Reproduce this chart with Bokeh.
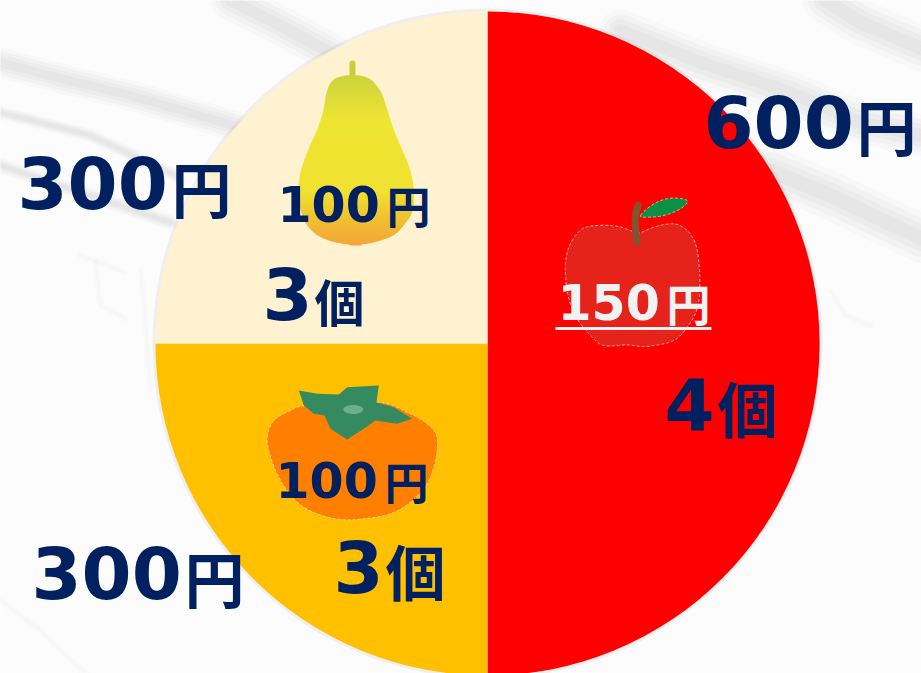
import math
from bokeh.plotting import figure
from bokeh.models import Range1d
from bokeh.core.properties import value
from bokeh.embed import file_html
from bokeh.resources import INLINE

W, H = 921, 673

# ---- chart data ----
fruits = ["りんご", "柿", "梨"]
totals = [600, 300, 300]
counts = [4, 3, 3]
unit_prices = [150, 100, 100]
slice_colors = ["#FF0000", "#FFC000", "#FFF2D0"]

NAVY = "#002060"
LIGHT = "#F2F2F2"


def sy(v):
    return H - v


def smooth(pts, closed=True, n=8):
    out = []
    m = len(pts)
    rng = range(m) if closed else range(m - 1)
    for i in rng:
        p0 = pts[(i - 1) % m] if (closed or i > 0) else pts[i]
        p1 = pts[i]
        p2 = pts[(i + 1) % m]
        p3 = pts[(i + 2) % m] if (closed or i + 2 < m) else p2
        for k in range(n):
            t = k / n
            q = []
            for a in range(2):
                q.append(0.5 * (2 * p1[a] + (p2[a] - p0[a]) * t
                                + (2 * p0[a] - 5 * p1[a] + 4 * p2[a] - p3[a]) * t * t
                                + (3 * p1[a] - p0[a] - 3 * p2[a] + p3[a]) * t ** 3))
            out.append(q)
    return out


def from_zoom(pts, ox, oy):
    return [(ox + a / 3, oy + b / 3) for a, b in pts]


p = figure(width=W, height=H, x_range=Range1d(0, W), y_range=Range1d(0, H),
           output_backend="svg", toolbar_location=None, min_border=0,
           background_fill_color="#FCFCFC", border_fill_color="#FCFCFC",
           outline_line_color=None)
p.axis.visible = False
p.grid.visible = False

# ---- faint banknote backdrop, layered to look soft ----
bands = [
    ([0, 60, 130, 233], [62, 78, 95, 125], 20),
    ([0, 40, 90, 175], [112, 122, 135, 175], 9),
    ([0, 60, 120, 170], [165, 185, 205, 222], 10),
    ([620, 700, 790, 860, 921], [30, 62, 92, 122, 135], 28),
    ([770, 830, 921], [170, 195, 238], 32),
    ([825, 860, 921], [0, 22, 48], 30),
    ([230, 280, 335], [0, 25, 55], 26),
]
for xs, ys, w in bands:
    for f, a in [(1.5, 0.03), (1.15, 0.04), (0.8, 0.04), (0.45, 0.04)]:
        p.line(xs, [sy(v) for v in ys], line_width=w * f, line_color="#707070", line_alpha=a,
               line_cap="round", line_join="round")
faint_marks = [
    ([80, 100, 125], [255, 262, 272]),
    ([95, 100, 125], [262, 305, 318]),
    ([140, 145, 150], [270, 320, 390]),
    ([0, 40, 85], [600, 630, 673]),
    ([830, 845, 870], [290, 315, 325]),
]
for xs, ys in faint_marks:
    for w, a in [(7, 0.02), (3, 0.03)]:
        p.line(xs, [sy(v) for v in ys], line_width=w, line_color="#80A090", line_alpha=a,
               line_cap="round", line_join="round")

# ---- pie ----
cx, cy, r = 487, 343, 332
grand = sum(totals)
angle = math.pi / 2
starts, ends = [], []
for t in totals:
    starts.append(angle)
    angle -= 2 * math.pi * t / grand
    ends.append(angle)
p.circle(x=[cx], y=[sy(cy)], radius=r + 3, fill_color="#808080", fill_alpha=0.10, line_color=None)
p.wedge(x=[cx] * 3, y=[sy(cy)] * 3, radius=r, start_angle=starts, end_angle=ends,
        direction="clock", fill_color=slice_colors, line_color=None)

# ---- pear ----
pear_rows = [(75, 255, 300), (83, 225, 325), (100, 208, 345), (130, 197, 365), (180, 188, 382),
             (230, 172, 398), (280, 150, 418), (330, 130, 440), (380, 117, 455), (430, 113, 460),
             (480, 122, 455), (520, 140, 430), (550, 170, 400), (570, 215, 350), (580, 270, 300)]
pear_stops = [(0.0, (205, 210, 60)), (0.25, (238, 228, 50)), (0.68, (240, 226, 48)),
              (0.86, (240, 190, 50)), (1.0, (244, 165, 55))]


def ramp(t):
    for (a, ca), (b, cb) in zip(pear_stops, pear_stops[1:]):
        if t <= b:
            f = (t - a) / (b - a)
            return "#%02x%02x%02x" % tuple(round(ca[i] + (cb[i] - ca[i]) * f) for i in range(3))
    return "#f4a537"


p.line([352, 352], [sy(63), sy(76)], line_width=6, line_color="#C8CD3C", line_cap="round")
lz = smooth([(y, a) for y, a, b in pear_rows], closed=False, n=10)
rz = smooth([(y, b) for y, a, b in pear_rows], closed=False, n=10)
ytop, ybot = pear_rows[0][0], pear_rows[-1][0]
# the gradient is painted top to bottom, each band overlapping the one below it
for i, ((y, a), (_, b)) in enumerate(zip(lz, rz)):
    band_y = 50 + y / 3
    next_y = 50 + lz[i + 1][0] / 3 if i + 1 < len(lz) else band_y + 1
    p.quad(left=[260 + a / 3], right=[260 + b / 3], top=[sy(band_y)], bottom=[sy(next_y + 0.8)],
           fill_color=ramp((y - ytop) / (ybot - ytop)), line_color=None)

# ---- apple ----
apple_outline = from_zoom([(290, 145), (340, 125), (400, 115), (440, 135), (465, 175), (475, 230),
                           (478, 300), (470, 370), (440, 425), (400, 465), (340, 480), (300, 483),
                           (260, 478), (190, 480), (150, 450), (110, 400), (85, 340), (75, 270),
                           (78, 210), (95, 165), (125, 130), (170, 120), (230, 122), (270, 135)],
                          540, 185)
s = smooth(apple_outline)
p.patch([a for a, b in s], [sy(b) for a, b in s], fill_color="#E5231B",
        line_color="#F6B0A8", line_width=1, line_dash="3 2")
leaf = smooth(from_zoom([(300, 90), (340, 55), (390, 38), (440, 45), (420, 70), (370, 90), (320, 95)],
                        540, 185))
p.patch([a for a, b in leaf], [sy(b) for a, b in leaf], fill_color="#0B9045",
        line_color="#B8E0C0", line_width=0.8, line_dash="3 2")
stem = smooth(from_zoom([(293, 60), (284, 100), (290, 175)], 540, 185), closed=False)
p.line([a for a, b in stem], [sy(b) for a, b in stem], line_width=7, line_color="#7F5530", line_cap="round")

# ---- persimmon ----
body = smooth(from_zoom([(50, 200), (70, 150), (120, 120), (170, 105), (380, 95), (470, 125), (530, 160),
                         (560, 200), (555, 270), (530, 340), (480, 395), (420, 430), (340, 445),
                         (270, 447), (200, 430), (140, 395), (90, 330), (60, 260)], 250, 370))
p.patch([a for a, b in body], [sy(b) for a, b in body], fill_color="#FF8000",
        line_color="#FFD9A0", line_width=1, line_dash="3 2")
calyx = from_zoom([(145, 60), (200, 70), (265, 72), (290, 50), (385, 45), (378, 95), (430, 110),
                   (485, 145), (440, 160), (375, 150), (340, 175), (290, 207), (240, 175),
                   (222, 135), (190, 130), (160, 105)], 250, 370)
p.patch([a for a, b in calyx], [sy(b) for a, b in calyx], fill_color="#358A60", line_color=None)
p.ellipse(x=[250 + 308 / 3], y=[sy(370 + 117 / 3)], width=20, height=9, fill_color="#6FAE8C", line_color=None)


# ---- texts: baseline corrected for how the svg backend anchors text ----
BASE = 0.43


def num(txt, x, base, size, color=NAVY):
    p.text(x=[x], y=[sy(base - BASE * size)], text=[txt], text_font=value("DejaVu Sans"), text_font_style="bold",
           text_font_size=f"{size}px", text_color=color, text_align="left", text_baseline="alphabetic")


def cjk(txt, x, base, size, color=NAVY):
    p.text(x=[x], y=[sy(base - BASE * size)], text=[txt], text_font=value("Noto Sans CJK JP"), text_font_style="bold",
           text_font_size=f"{size}px", text_color=color, text_align="left", text_baseline="alphabetic")


YEN, KO = "円", "個"
num(str(totals[0]), 703, 152, 72); cjk(YEN, 856, 150, 60)
num(str(totals[2]), 17, 213, 72); cjk(YEN, 171, 212, 60)
num(str(totals[1]), 31, 603, 72); cjk(YEN, 184, 602, 60)

num(str(unit_prices[2]), 277, 225, 49); cjk(YEN, 386, 223, 44)
num(str(unit_prices[1]), 275, 501, 49); cjk(YEN, 384, 499, 44)
num(str(unit_prices[0]), 557, 323, 49, LIGHT); cjk(YEN, 666, 321, 44, LIGHT)
p.line([555, 711], [sy(328), sy(328)], line_width=3, line_color=LIGHT)

num(str(counts[2]), 262, 324, 72); cjk(KO, 314, 321, 50)
num(str(counts[1]), 333, 597, 72); cjk(KO, 385, 595, 60)
num(str(counts[0]), 664, 434, 72); cjk(KO, 717, 432, 60)

open("out.html", "w").write(file_html(p, INLINE))
